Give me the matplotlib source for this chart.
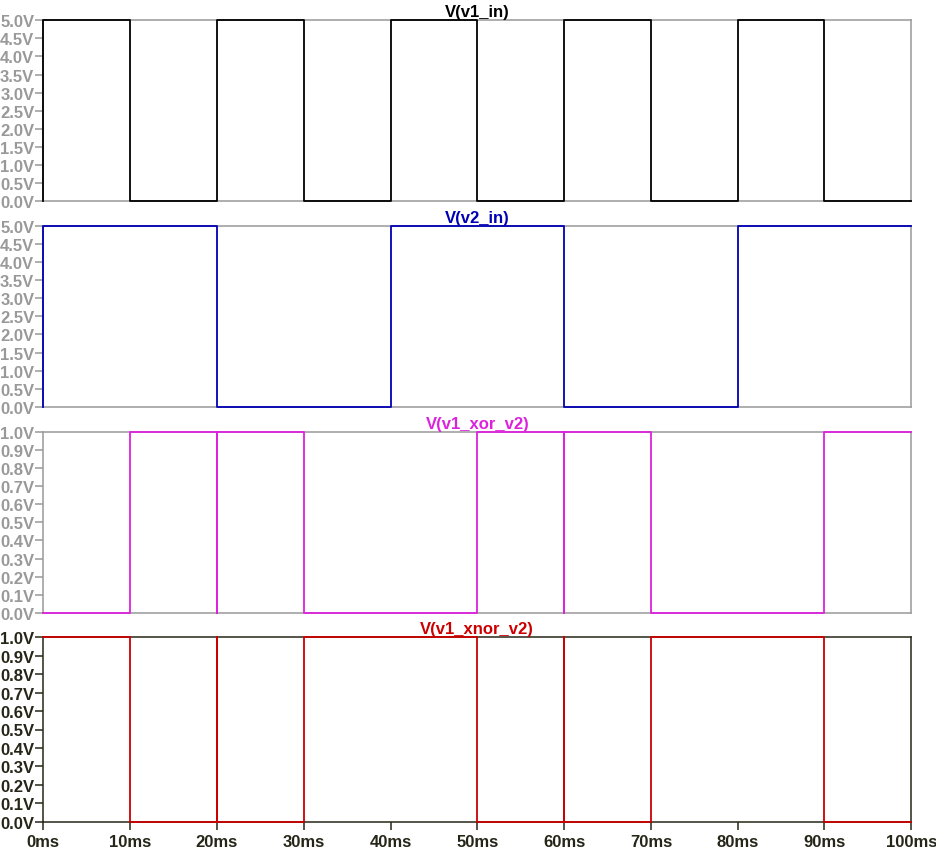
import matplotlib
matplotlib.use("Agg")
import matplotlib.pyplot as plt
import numpy as np

plt.rcParams['font.family'] = ['Liberation Sans', 'DejaVu Sans']

# step levels on each 10 ms interval
t_edges = [0, 10, 20, 30, 40, 50, 60, 70, 80, 90, 100]
v1_in = [5, 0, 5, 0, 5, 0, 5, 0, 5, 0]
v2_in = [5, 5, 0, 0, 5, 5, 0, 0, 5, 5]
v1_xor_v2 = [0, 1, 1, 0, 0, 1, 1, 0, 0, 1]
v1_xnor_v2 = [1, 0, 0, 1, 1, 0, 0, 1, 1, 0]
# simultaneous input edges give a short glitch on the gate outputs
glitch_ms = [20, 60]

x_ticks = [0, 10, 20, 30, 40, 50, 60, 70, 80, 90, 100]


def step_path(levels, start, glitch_val=None):
    t = [t_edges[0]]
    v = [start]
    for i, lev in enumerate(levels):
        t0 = t_edges[i]
        if glitch_val is not None and t0 in glitch_ms:
            t += [t0, t0]
            v += [glitch_val, glitch_val]
        t += [t0, t_edges[i + 1]]
        v += [lev, lev]
    return t, v


panels = [
    ("V(v1_in)", step_path(v1_in, 0), 'black', np.arange(0, 5.01, 0.5), 5.0),
    ("V(v2_in)", step_path(v2_in, 0), '#0000b4', np.arange(0, 5.01, 0.5), 5.0),
    ("V(v1_xor_v2)", step_path(v1_xor_v2, 0, 0), '#dd22dd', np.arange(0, 1.01, 0.1), 1.0),
    ("V(v1_xnor_v2)", step_path(v1_xnor_v2, 1, 1), '#cc0000', np.arange(0, 1.01, 0.1), 1.0),
]

W, H = 936, 853
fig = plt.figure(figsize=(W / 100, H / 100), dpi=100)

tops = [21.3, 226.7, 432.7, 638.3]
bottoms = [202, 408, 614, 822.7]
left, right = 43.3, 911.3

for k, (name, (t, v), col, yt, ymax) in enumerate(panels):
    ax = fig.add_axes([left / W, 1 - bottoms[k] / H, (right - left) / W,
                       (bottoms[k] - tops[k]) / H])
    last = k == 3
    fcol = '#262618' if last else '#999999'
    ax.plot(t, v, color=col, lw=1.3, clip_on=False, zorder=3)
    ax.set_xlim(0, 100)
    ax.set_ylim(0, ymax)
    ax.set_yticks(yt)
    ax.set_yticklabels([f"{y:.1f}V" for y in yt])
    for s in ax.spines.values():
        s.set_color(fcol)
        s.set_linewidth(1.1)
    ax.tick_params(axis='y', colors=fcol, length=5.5, width=1.1, pad=1,
                   labelsize=12)
    for lab in ax.get_yticklabels():
        lab.set_fontweight('bold')
    if last:
        ax.set_xticks(x_ticks)
        ax.set_xticklabels([f"{x}ms" for x in x_ticks])
        ax.tick_params(axis='x', colors=fcol, length=5.5, width=1.1, pad=3,
                       labelsize=12)
        for lab in ax.get_xticklabels():
            lab.set_fontweight('bold')
    else:
        ax.set_xticks([])
    ax.set_title(name, color=col, fontsize=12, fontweight='bold', pad=3)

fig.savefig("out.png", dpi=100)
